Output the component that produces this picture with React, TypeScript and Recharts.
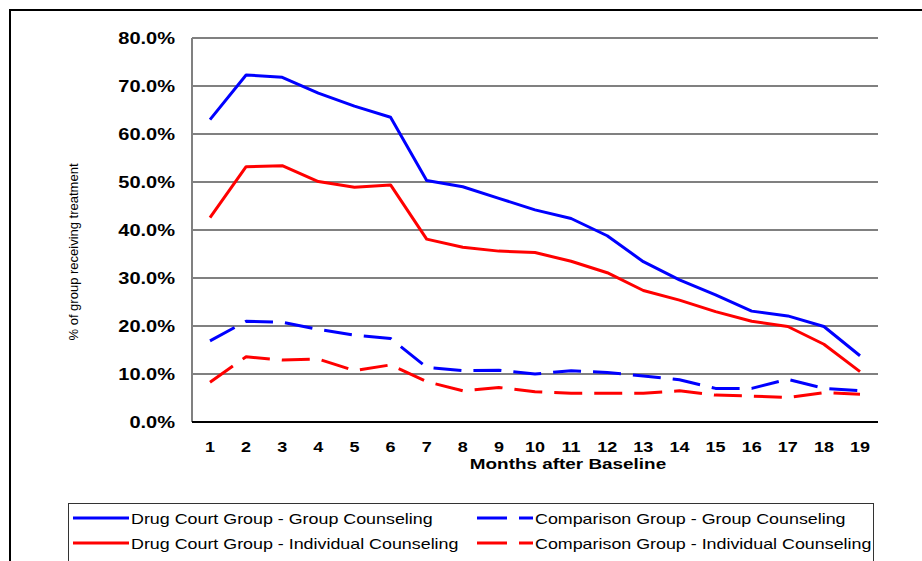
import React from "react";
import { LineChart, Line, XAxis, YAxis, CartesianGrid } from "recharts";

const months = ["1", "2", "3", "4", "5", "6", "7", "8", "9", "10", "11", "12", "13", "14", "15", "16", "17", "18", "19"];
const drugCourtGroup = [63.0, 72.3, 71.8, 68.5, 65.8, 63.5, 50.3, 49.0, 46.6, 44.2, 42.4, 38.8, 33.4, 29.6, 26.5, 23.1, 22.1, 19.9, 13.8];
const drugCourtIndividual = [42.6, 53.2, 53.4, 50.1, 48.9, 49.4, 38.1, 36.4, 35.6, 35.3, 33.5, 31.1, 27.4, 25.4, 23.0, 21.0, 19.9, 16.2, 10.5];
const comparisonGroup = [16.9, 21.0, 20.8, 19.3, 18.1, 17.4, 11.4, 10.7, 10.8, 10.0, 10.7, 10.3, 9.6, 8.8, 7.0, 7.0, 8.9, 7.0, 6.5];
const comparisonIndividual = [8.3, 13.6, 12.9, 13.1, 10.7, 11.9, 8.4, 6.5, 7.2, 6.3, 6.0, 6.0, 6.0, 6.5, 5.6, 5.4, 5.1, 6.1, 5.8];
const yTicks = [0, 10, 20, 30, 40, 50, 60, 70, 80];

const series = [
  { key: "dcGroup", name: "Drug Court Group - Group Counseling", color: "#0000ff", dashed: false },
  { key: "cmpGroup", name: "Comparison Group - Group Counseling", color: "#0000ff", dashed: true },
  { key: "dcIndiv", name: "Drug Court Group - Individual Counseling", color: "#ff0000", dashed: false },
  { key: "cmpIndiv", name: "Comparison Group - Individual Counseling", color: "#ff0000", dashed: true },
];

const data = months.map((m, i) => ({
  month: m,
  dcGroup: drugCourtGroup[i],
  dcIndiv: drugCourtIndividual[i],
  cmpGroup: comparisonGroup[i],
  cmpIndiv: comparisonIndividual[i],
}));

const FONT = "'Liberation Sans', Arial, sans-serif";
const DASH = "28 12";

function XTick({ x, y, payload }: any) {
  return (
    <g transform={`translate(${x},${y + 30}) scale(1.2,1)`}>
      <text x={0} y={0} textAnchor="middle" fontFamily={FONT} fontWeight="bold" fontSize={15} fill="#000">
        {payload.value}
      </text>
    </g>
  );
}

function YTick({ x, y, payload }: any) {
  return (
    <g transform={`translate(${x},${y}) scale(1.25,1)`}>
      <text x={0} y={0} dy="0.36em" textAnchor="end" fontFamily={FONT} fontWeight="bold" fontSize={16} fill="#000">
        {Number(payload.value).toFixed(1)}%
      </text>
    </g>
  );
}

function LegendBox() {
  const rows = [
    [series[0], series[1]],
    [series[2], series[3]],
  ];
  const cols = [73, 477];
  const rowY = [518, 543];
  return (
    <div
      style={{
        position: "absolute",
        left: 68,
        top: 503,
        width: 806,
        height: 80,
        border: "1px solid #333",
        boxSizing: "border-box",
        overflow: "hidden",
        fontFamily: FONT,
      }}
    >
      {rows.map((row, r) =>
        row.map((s, c) => (
          <div
            key={s.key}
            style={{ position: "absolute", left: cols[c] - 69, top: rowY[r] - 504 - 10, height: 20, display: "flex", alignItems: "center" }}
          >
            <svg width={56} height={6} style={{ display: "block" }}>
              <line x1={0} y1={3} x2={56} y2={3} stroke={s.color} strokeWidth={3} strokeDasharray={s.dashed ? "30 12" : undefined} />
            </svg>
            <span
              style={{
                display: "inline-block",
                marginLeft: 2,
                fontSize: 15,
                whiteSpace: "nowrap",
                transform: "scaleX(1.19)",
                transformOrigin: "left center",
                color: "#000",
              }}
            >
              {s.name}
            </span>
          </div>
        ))
      )}
    </div>
  );
}

export default function App() {
  return (
    <div style={{ position: "absolute", left: 0, top: 0, width: 922, height: 561, background: "#fff", overflow: "hidden" }}>
      <div style={{ position: "absolute", left: 9, top: 9, width: 920, height: 560, borderTop: "2px solid #000", borderLeft: "2px solid #000" }} />
      <LineChart width={922} height={561} data={data} margin={{ top: 38, right: 44, bottom: 99, left: 0 }}>
        <CartesianGrid vertical={false} stroke="#808080" strokeWidth={2} />
        <YAxis
          width={192}
          domain={[0, 80]}
          ticks={yTicks}
          interval={0}
          tickLine={false}
          tickSize={0}
          tickMargin={17}
          axisLine={{ stroke: "#808080", strokeWidth: 2 }}
          tick={<YTick />}
          label={(props: any) => {
            const vb = props.viewBox;
            const cx = vb.x + 73;
            const cy = vb.y + vb.height / 2 + 22;
            return (
              <text
                x={cx}
                y={cy}
                transform={`rotate(-90, ${cx}, ${cy})`}
                textAnchor="middle"
                dominantBaseline="central"
                fontFamily={FONT}
                fontSize={13}
                fill="#000"
              >
                % of group receiving treatment
              </text>
            );
          }}
        />
        <XAxis
          dataKey="month"
          height={40}
          interval={0}
          padding={{ left: 18, right: 18 }}
          tickLine={false}
          tickSize={0}
          tickMargin={0}
          axisLine={{ stroke: "#000", strokeWidth: 2 }}
          tick={<XTick />}
          label={(props: any) => {
            const vb = props.viewBox;
            const cx = vb.x + vb.width / 2 + 33;
            const cy = vb.y + 47;
            return (
              <g transform={`translate(${cx},${cy}) scale(1.35,1)`}>
                <text x={0} y={0} textAnchor="middle" fontFamily={FONT} fontWeight="bold" fontSize={14} fill="#000">
                  Months after Baseline
                </text>
              </g>
            );
          }}
        />
        {series.map((s) => (
          <Line
            key={s.key}
            type="linear"
            dataKey={s.key}
            name={s.name}
            stroke={s.color}
            strokeWidth={3}
            strokeDasharray={s.dashed ? DASH : undefined}
            strokeLinejoin="round"
            dot={false}
            activeDot={false}
            isAnimationActive={false}
          />
        ))}
      </LineChart>
      <LegendBox />
    </div>
  );
}
